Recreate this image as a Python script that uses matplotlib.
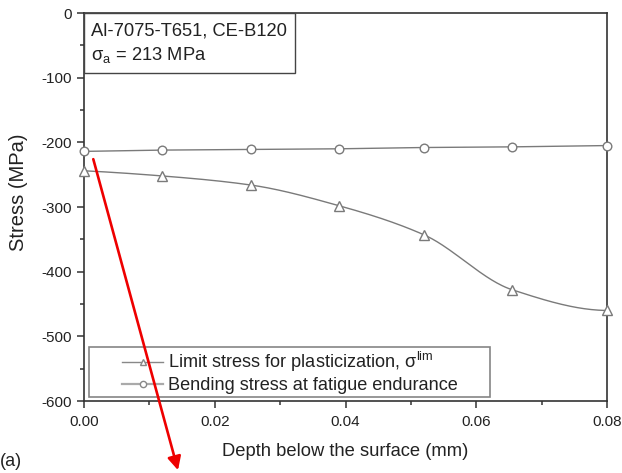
import numpy as np
import matplotlib
matplotlib.use("Agg")
import matplotlib.pyplot as plt
from matplotlib.ticker import MultipleLocator
from matplotlib.lines import Line2D
from matplotlib.patches import Rectangle
from matplotlib.legend_handler import HandlerLine2D

plt.rcParams['font.family'] = ['Liberation Sans', 'DejaVu Sans']
plt.rcParams['mathtext.fontset'] = 'custom'
plt.rcParams['mathtext.rm'] = 'Liberation Sans'
plt.rcParams['mathtext.it'] = 'Liberation Sans:italic'

# Depth below the surface (mm)
depth = [0.0, 0.012, 0.0255, 0.039, 0.052, 0.0655, 0.08]
# Limit stress for plasticization (MPa)
limit_stress = [-244, -252, -266, -298, -343, -428, -460]
# Bending stress at fatigue endurance (MPa)
bending_stress = [-214, -212, -211, -210, -208, -207, -205]

x_ticks = [0.00, 0.02, 0.04, 0.06, 0.08]
y_ticks = [0, -100, -200, -300, -400, -500, -600]

GRAY = '#7a7a7a'
AXIS = '#333333'


def pchip(x, y, n=300):
    """Shape-preserving piecewise cubic curve through the points."""
    x = np.asarray(x, float)
    y = np.asarray(y, float)
    h = np.diff(x)
    delta = np.diff(y) / h
    d = np.zeros_like(y)
    for i in range(1, len(x) - 1):
        if delta[i - 1] * delta[i] > 0:
            w1 = 2 * h[i] + h[i - 1]
            w2 = h[i] + 2 * h[i - 1]
            d[i] = (w1 + w2) / (w1 / delta[i - 1] + w2 / delta[i])
    d[0] = ((2 * h[0] + h[1]) * delta[0] - h[0] * delta[1]) / (h[0] + h[1])
    if np.sign(d[0]) != np.sign(delta[0]):
        d[0] = 0
    d[-1] = ((2 * h[-1] + h[-2]) * delta[-1] - h[-1] * delta[-2]) / (h[-1] + h[-2])
    if np.sign(d[-1]) != np.sign(delta[-1]):
        d[-1] = 0
    xs = np.linspace(x[0], x[-1], n)
    idx = np.clip(np.searchsorted(x, xs) - 1, 0, len(x) - 2)
    t = (xs - x[idx]) / h[idx]
    h00 = 2 * t ** 3 - 3 * t ** 2 + 1
    h10 = t ** 3 - 2 * t ** 2 + t
    h01 = -2 * t ** 3 + 3 * t ** 2
    h11 = t ** 3 - t ** 2
    ys = (h00 * y[idx] + h10 * h[idx] * d[idx]
          + h01 * y[idx + 1] + h11 * h[idx] * d[idx + 1])
    return xs, ys


class IndentedLineHandler(HandlerLine2D):
    """Legend handle whose line starts part-way into the handle box."""

    def __init__(self, indent=0.4, **kw):
        super().__init__(**kw)
        self.indent = indent

    def get_xdata(self, legend, xdescent, ydescent, width, height, fontsize):
        x0 = -xdescent + self.indent * width
        x1 = -xdescent + width
        return np.array([x0, x1]), np.array([0.5 * (x0 + x1)])


fig = plt.figure(figsize=(6.22, 4.73), dpi=100)
ax = fig.add_axes([84 / 622, 72 / 473, 523 / 622, 388 / 473])

xs, ys = pchip(depth, limit_stress)
ax.plot(xs, ys, color=GRAY, lw=1.0, zorder=2)
ax.plot(depth, limit_stress, linestyle='none', marker='^', ms=6.5,
        mfc='white', mec=GRAY, mew=1.0, zorder=3, clip_on=False)
ax.plot(depth, bending_stress, color=GRAY, lw=1.0, marker='o', ms=6.2,
        mfc='white', mec=GRAY, mew=1.0, zorder=3, clip_on=False)

ax.set_xlim(0, 0.08)
ax.set_ylim(-600, 0)
ax.set_xticks(x_ticks)
ax.set_xticklabels([f'{v:.2f}' for v in x_ticks])
ax.set_yticks(y_ticks)
ax.set_yticklabels([str(v) for v in y_ticks])
ax.xaxis.set_minor_locator(MultipleLocator(0.01))
ax.yaxis.set_minor_locator(MultipleLocator(50))
ax.tick_params(which='major', direction='out', length=5, width=1.1,
               labelsize=11, color=AXIS, labelcolor='#222222')
ax.tick_params(axis='y', which='major', pad=4)
ax.tick_params(axis='x', which='major', pad=5)
ax.tick_params(which='minor', direction='out', length=3, width=1.1, color=AXIS)
for side in ['left', 'bottom', 'top', 'right']:
    ax.spines[side].set_linewidth(1.2)
    ax.spines[side].set_color(AXIS)

ax.set_xlabel('Depth below the surface (mm)', fontsize=13.2, labelpad=10.5,
              color='#222222')
ax.set_ylabel('Stress (MPa)', fontsize=14.5, color='#222222')
ax.yaxis.set_label_coords(-0.107, 0.539)

# Info box in the upper-left corner
ax.add_patch(Rectangle((0, 328.3 / 388), 211 / 523, 1 - 328.3 / 388,
                       transform=ax.transAxes, fc='white', ec='#444444',
                       lw=1.0, zorder=4))
ax.text(0.014, 0.975, 'Al-7075-T651, CE-B120\nσ$_\\mathrm{a}$ = 213 MPa',
        transform=ax.transAxes, fontsize=13.2, va='top', ha='left',
        linespacing=1.32, color='#222222', zorder=5)

# Legend
handles = [
    Line2D([], [], color='#888888', lw=1.0, marker='^', ms=4.5,
           mfc='white', mec='#888888'),
    Line2D([], [], color='#aaaaaa', lw=1.6, marker='o', ms=4.5,
           mfc='white', mec='#888888'),
]
labels = ['Limit stress for plasticization, σ$^\\mathrm{lim}$',
          'Bending stress at fatigue endurance']
leg = ax.legend(handles, labels, loc='lower left',
                bbox_to_anchor=(5 / 523, 4 / 388, 401 / 523, 0.1),
                mode='expand', borderaxespad=0,
                fontsize=13.1, frameon=True, fancybox=False, borderpad=0.15,
                handlelength=3.92, handletextpad=0.27, labelspacing=0.18,
                handler_map={Line2D: IndentedLineHandler(indent=0.425)})
leg.get_frame().set_edgecolor('#666666')
leg.get_frame().set_linewidth(1.2)
leg.set_zorder(5)
for t in leg.get_texts():
    t.set_color('#222222')

# Red pointer arrow starting near the surface points
ax.annotate('', xy=(0.01438, -707), xytext=(0.00142, -226),
            xycoords='data', textcoords='data', annotation_clip=False,
            arrowprops=dict(arrowstyle='-|>', color='#ee0000', lw=1.9,
                            mutation_scale=20, shrinkA=0, shrinkB=0),
            zorder=10)

fig.text(0.0, 12 / 473, '(a)', fontsize=13, ha='left', va='center',
         color='#222222')

fig.savefig('out.png', dpi=100)
